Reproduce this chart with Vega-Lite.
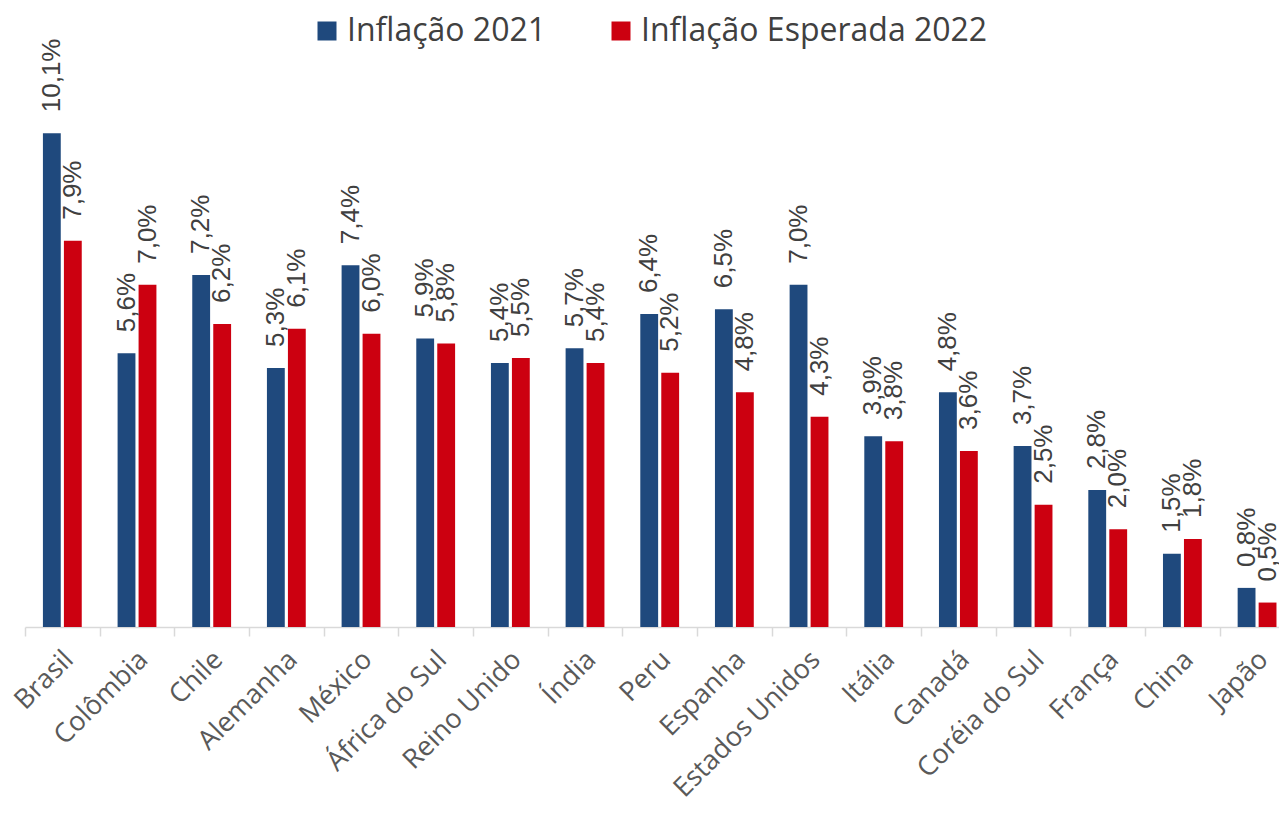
{
  "$schema": "https://vega.github.io/schema/vega-lite/v6.json",
  "autosize": {"type": "none"},
  "width": 1254,
  "height": 527,
  "padding": {"left": 25, "top": 100, "right": 0, "bottom": 189},
  "background": "white",
  "data": {
    "values": [
      {"pais": "Brasil", "serie": "Inflação 2021", "valor": 10.1, "rotulo": "10,1%"},
      {"pais": "Brasil", "serie": "Inflação Esperada 2022", "valor": 7.9, "rotulo": "7,9%"},
      {"pais": "Colômbia", "serie": "Inflação 2021", "valor": 5.6, "rotulo": "5,6%"},
      {"pais": "Colômbia", "serie": "Inflação Esperada 2022", "valor": 7.0, "rotulo": "7,0%"},
      {"pais": "Chile", "serie": "Inflação 2021", "valor": 7.2, "rotulo": "7,2%"},
      {"pais": "Chile", "serie": "Inflação Esperada 2022", "valor": 6.2, "rotulo": "6,2%"},
      {"pais": "Alemanha", "serie": "Inflação 2021", "valor": 5.3, "rotulo": "5,3%"},
      {"pais": "Alemanha", "serie": "Inflação Esperada 2022", "valor": 6.1, "rotulo": "6,1%"},
      {"pais": "México", "serie": "Inflação 2021", "valor": 7.4, "rotulo": "7,4%"},
      {"pais": "México", "serie": "Inflação Esperada 2022", "valor": 6.0, "rotulo": "6,0%"},
      {"pais": "África do Sul", "serie": "Inflação 2021", "valor": 5.9, "rotulo": "5,9%"},
      {"pais": "África do Sul", "serie": "Inflação Esperada 2022", "valor": 5.8, "rotulo": "5,8%"},
      {"pais": "Reino Unido", "serie": "Inflação 2021", "valor": 5.4, "rotulo": "5,4%"},
      {"pais": "Reino Unido", "serie": "Inflação Esperada 2022", "valor": 5.5, "rotulo": "5,5%"},
      {"pais": "Índia", "serie": "Inflação 2021", "valor": 5.7, "rotulo": "5,7%"},
      {"pais": "Índia", "serie": "Inflação Esperada 2022", "valor": 5.4, "rotulo": "5,4%"},
      {"pais": "Peru", "serie": "Inflação 2021", "valor": 6.4, "rotulo": "6,4%"},
      {"pais": "Peru", "serie": "Inflação Esperada 2022", "valor": 5.2, "rotulo": "5,2%"},
      {"pais": "Espanha", "serie": "Inflação 2021", "valor": 6.5, "rotulo": "6,5%"},
      {"pais": "Espanha", "serie": "Inflação Esperada 2022", "valor": 4.8, "rotulo": "4,8%"},
      {"pais": "Estados Unidos", "serie": "Inflação 2021", "valor": 7.0, "rotulo": "7,0%"},
      {"pais": "Estados Unidos", "serie": "Inflação Esperada 2022", "valor": 4.3, "rotulo": "4,3%"},
      {"pais": "Itália", "serie": "Inflação 2021", "valor": 3.9, "rotulo": "3,9%"},
      {"pais": "Itália", "serie": "Inflação Esperada 2022", "valor": 3.8, "rotulo": "3,8%"},
      {"pais": "Canadá", "serie": "Inflação 2021", "valor": 4.8, "rotulo": "4,8%"},
      {"pais": "Canadá", "serie": "Inflação Esperada 2022", "valor": 3.6, "rotulo": "3,6%"},
      {"pais": "Coréia do Sul", "serie": "Inflação 2021", "valor": 3.7, "rotulo": "3,7%"},
      {"pais": "Coréia do Sul", "serie": "Inflação Esperada 2022", "valor": 2.5, "rotulo": "2,5%"},
      {"pais": "França", "serie": "Inflação 2021", "valor": 2.8, "rotulo": "2,8%"},
      {"pais": "França", "serie": "Inflação Esperada 2022", "valor": 2.0, "rotulo": "2,0%"},
      {"pais": "China", "serie": "Inflação 2021", "valor": 1.5, "rotulo": "1,5%"},
      {"pais": "China", "serie": "Inflação Esperada 2022", "valor": 1.8, "rotulo": "1,8%"},
      {"pais": "Japão", "serie": "Inflação 2021", "valor": 0.8, "rotulo": "0,8%"},
      {"pais": "Japão", "serie": "Inflação Esperada 2022", "valor": 0.5, "rotulo": "0,5%"}
    ]
  },
  "encoding": {
    "x": {
      "field": "pais",
      "type": "nominal",
      "sort": null,
      "title": null,
      "scale": {"range": [0, 1269.4], "paddingInner": 0.48, "paddingOuter": 0.24},
      "axis": {
        "labelAngle": -45,
        "labelFont": "Open Sans",
        "labelFontSize": 27,
        "labelColor": "#595959",
        "labelPadding": 10,
        "labelLimit": 400,
        "domainColor": "#D9D9D9",
        "domainWidth": 1.5,
        "tickColor": "#D9D9D9",
        "tickWidth": 1.5,
        "tickSize": 9,
        "bandPosition": 0,
        "tickOffset": -17.9,
        "labelOffset": 15,
        "labelOverlap": false
      }
    },
    "y": {
      "field": "valor",
      "type": "quantitative",
      "scale": {"domain": [0, 10.78]},
      "axis": null
    },
    "xOffset": {
      "field": "serie",
      "type": "nominal",
      "scale": {"paddingInner": 0.15}
    }
  },
  "layer": [
    {
      "mark": {"type": "bar"},
      "encoding": {
        "color": {
          "field": "serie",
          "type": "nominal",
          "scale": {"domain": ["Inflação 2021", "Inflação Esperada 2022"], "range": ["#1F497D", "#CC0010"]},
          "legend": {
            "title": null,
            "orient": "none",
            "direction": "horizontal",
            "legendX": 286,
            "legendY": -85,
            "symbolType": "square",
            "symbolSize": 361,
            "symbolStrokeWidth": 0,
            "labelFont": "Open Sans",
            "labelFontSize": 32,
            "labelColor": "#404040",
            "labelOffset": 4,
            "columnPadding": 58,
            "labelLimit": 600
          }
        }
      }
    },
    {
      "mark": {
        "type": "text",
        "angle": -90,
        "align": "left",
        "baseline": "middle",
        "dx": 21,
        "font": "Liberation Sans",
        "fontSize": 26,
        "color": "#404040"
      },
      "encoding": {
        "text": {"field": "rotulo"}
      }
    }
  ],
  "config": {"view": {"stroke": null}}
}
